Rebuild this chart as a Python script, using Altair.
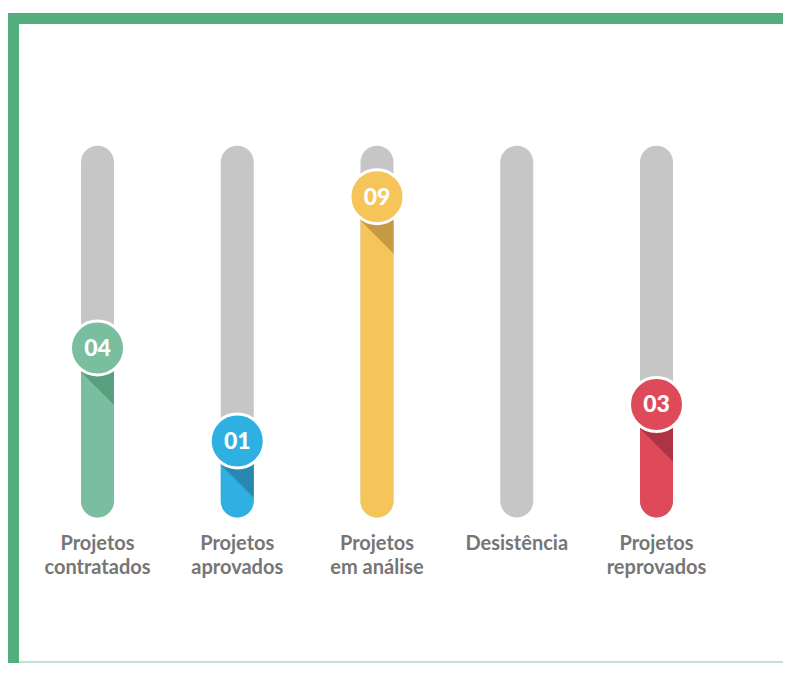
import altair as alt
import pandas as pd

# ---- data ----
keys = ["contratados", "aprovados", "analise", "desistencia", "reprovados"]
names = ["Projetos\ncontratados", "Projetos\naprovados", "Projetos\nem análise", "Desistência", "Projetos\nreprovados"]
values = [4, 1, 9, 0, 3]
# height of the coloured fill, as % of the grey track (as drawn in the infographic)
levels = [45.6, 20.6, 86.3, 0.0, 30.4]
fill_colors = ["#79BE9F", "#2EB1E2", "#F6C55A", "#C6C6C6", "#DE4A5A"]
shadow_colors = ["#58A07D", "#2A88B0", "#C69A45", "#C6C6C6", "#AE3443"]

W, H = 775, 655
GREEN = "#53AD7D"
TRACK = "#C6C6C6"

df = pd.DataFrame({
    "key": keys,
    "name": names,
    "value": values,
    "label": [f"{v:02d}" for v in values],
    "level": levels,
    "full": [100] * len(keys),
    "zero": [0] * len(keys),
    "color": fill_colors,
    "shadow": shadow_colors,
})

xenc = alt.X("key:N", sort=keys, axis=None,
             scale=alt.Scale(type="point", range=[89.5, 648.5], padding=0))
yscale = alt.Scale(domain=[0, 100], range=[509.5, 137.7])

base = alt.Chart(df).encode(x=xenc)
has = base.transform_filter("datum.value > 0")

track = base.mark_bar(size=33, cornerRadius=16.5, color=TRACK).encode(
    y=alt.Y("full:Q", scale=yscale, axis=None), y2="zero:Q")

fill = has.mark_bar(size=33, cornerRadius=16.5).encode(
    y=alt.Y("level:Q", scale=yscale, axis=None), y2="zero:Q",
    color=alt.Color("color:N", scale=None))

SHADOW_PATH = "M -1 0 L 1 0 L 1 3.45 L -1 1.45 Z"
shadow = has.mark_point(shape=SHADOW_PATH, filled=True, size=1089, opacity=1, strokeWidth=0).encode(
    y=alt.Y("level:Q", scale=yscale, axis=None),
    color=alt.Color("shadow:N", scale=None))

circle = has.mark_circle(size=2916, opacity=1, stroke="white", strokeWidth=3).encode(
    y=alt.Y("level:Q", scale=yscale, axis=None),
    color=alt.Color("color:N", scale=None))

number = has.mark_text(font="Lato", fontSize=23, fontWeight=900, color="white",
                       baseline="middle", align="center", dy=1).encode(
    y=alt.Y("level:Q", scale=yscale, axis=None), text="label:N")

cat_labels = base.mark_text(font="Lato", fontSize=20, fontWeight="bold", color="#767676",
                            baseline="top", align="center", lineBreak="\n", lineHeight=24).encode(
    y=alt.value(526), text="name:N")

one = pd.DataFrame({"d": [0]})
left_border = alt.Chart(one).mark_rect(color=GREEN).encode(
    x=alt.value(0), x2=alt.value(11), y=alt.value(5), y2=alt.value(H))
top_border = alt.Chart(one).mark_rect(color=GREEN).encode(
    x=alt.value(0), x2=alt.value(W), y=alt.value(5), y2=alt.value(16))
bottom_line = alt.Chart(one).mark_rule(color="#A6DCBF", strokeWidth=1.5).encode(
    x=alt.value(11), x2=alt.value(W), y=alt.value(H - 1))

chart = alt.layer(
    track, fill, shadow, circle, number, cat_labels,
    left_border, top_border, bottom_line,
).properties(
    width=W, height=H, autosize="none", padding=0, background="white"
).configure_view(stroke=None)

chart.save("out.html", embed_options={"renderer": "svg", "actions": False})
